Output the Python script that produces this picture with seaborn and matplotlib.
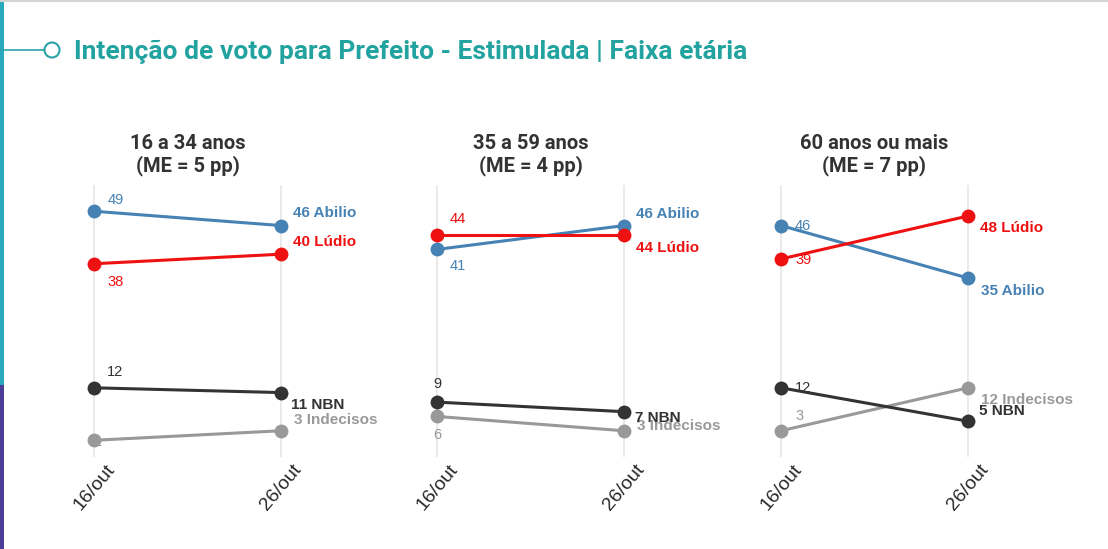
import pandas as pd
import matplotlib.pyplot as plt
import seaborn as sns
from matplotlib.patches import Circle, Rectangle

## Data

panel_titles = ["16 a 34 anos\n(ME = 5 pp)", "35 a 59 anos\n(ME = 4 pp)", "60 anos ou mais\n(ME = 7 pp)"]
dates = ["16/out", "26/out"]
candidates = ["Indecisos", "NBN", "Abilio", "Lúdio"]

abilio = [[49, 46], [41, 46], [46, 35]]
ludio = [[38, 40], [44, 44], [39, 48]]
nbn = [[12, 11], [9, 7], [12, 5]]
indecisos = [[1, 3], [6, 3], [3, 12]]

colors = {"Abilio": "#4682b4", "Lúdio": "#ee1111", "NBN": "#333333", "Indecisos": "#999999"}

# label offsets in pixels (start label, end label)
left_off = [
    {"Abilio": (14, 11), "Lúdio": (13, -18), "NBN": (13, 16), "Indecisos": (0, -2)},
    {"Abilio": (13, -17), "Lúdio": (13, 16), "NBN": (-4, 18), "Indecisos": (-4, -19)},
    {"Abilio": (14, 0), "Lúdio": (14, -1), "NBN": (14, 0), "Indecisos": (14, 15)},
]
right_off = [
    {"Abilio": (12, 13), "Lúdio": (12, 12), "NBN": (10, -12), "Indecisos": (13, 11)},
    {"Abilio": (12, 12), "Lúdio": (12, -13), "NBN": (11, -6), "Indecisos": (13, 5)},
    {"Abilio": (13, -13), "Lúdio": (12, -12), "NBN": (11, 10), "Indecisos": (13, -12)},
]

series = {"Abilio": abilio, "Lúdio": ludio, "NBN": nbn, "Indecisos": indecisos}

rows = []
for p in range(3):
    for cand in candidates:
        for i in range(2):
            rows.append({"panel": p, "x": i, "cand": cand, "value": series[cand][p][i]})
df = pd.DataFrame(rows)

## Figure

sns.set_style("white")
W, H = 1108, 549
fig = plt.figure(figsize=(W / 100, H / 100), dpi=100)

# background decorations in pixel space
bg = fig.add_axes([0, 0, 1, 1], zorder=-5)
bg.set_xlim(0, W)
bg.set_ylim(H, 0)
bg.axis("off")
bg.add_patch(Rectangle((0, 0), 3.5, 385, color="#2aa8bd", lw=0))
bg.add_patch(Rectangle((0, 385), 3.5, H - 385, color="#4b3d98", lw=0))
bg.plot([0, W], [0.8, 0.8], color="#d4d4d4", lw=1.5)
bg.plot([0, 44], [50, 50], color="#2aa3a8", lw=1.2)
bg.add_patch(Circle((52, 50), 7.5, fill=False, ec="#2aa3a8", lw=1.5))
bg.text(74, 52, "Intenção de voto para Prefeito - Estimulada | Faixa etária",
        fontsize=19, fontweight="bold", family="Roboto", color="#23a3a0",
        va="center", ha="left")

x0s = [94, 437, 781]
step = 187
bottom_px, top_px = 457, 185

for p in range(3):
    left = (x0s[p] - 0.15 * step) / W
    ax = fig.add_axes([left, (H - bottom_px) / H, 1.3 * step / W, (bottom_px - top_px) / H])
    d = df[df["panel"] == p]
    sns.lineplot(data=d, x="x", y="value", hue="cand", hue_order=candidates,
                 palette=colors, marker="o", markersize=10, markeredgewidth=0,
                 linewidth=2.2, legend=False, ax=ax, zorder=3)
    ax.set_xlim(-0.15, 1.15)
    ax.set_ylim(-2.5, 54.5)
    for s in ax.spines.values():
        s.set_visible(False)
    ax.set_yticks([])
    ax.set_xticks([0, 1])
    ax.set_xticklabels(dates, rotation=50, fontsize=14, family="Liberation Sans",
                       color="#2a2a2a", fontweight="light")
    ax.tick_params(axis="x", length=0, pad=3)
    ax.xaxis.grid(True, color="#e6e6e6", lw=1.2)
    ax.set_axisbelow(True)
    ax.set_xlabel("")
    ax.set_ylabel("")
    ax.set_title(panel_titles[p], fontsize=14.5, fontweight="bold", family="Roboto",
                 color="#333333", pad=10, linespacing=1.1)

    for cand in candidates:
        v0, v1 = series[cand][p]
        ax.annotate(str(v0), (0, v0), xytext=left_off[p][cand], textcoords="offset pixels",
                    ha="left", va="center", fontsize=10.5, family="Liberation Sans",
                    color=colors[cand], zorder=1, annotation_clip=False)
        ax.annotate(f"{v1} {cand}", (1, v1), xytext=right_off[p][cand], textcoords="offset pixels",
                    ha="left", va="center", fontsize=11, fontweight="bold",
                    family="Liberation Sans", color=colors[cand], zorder=5,
                    annotation_clip=False)

fig.savefig("out.png", dpi=100)
